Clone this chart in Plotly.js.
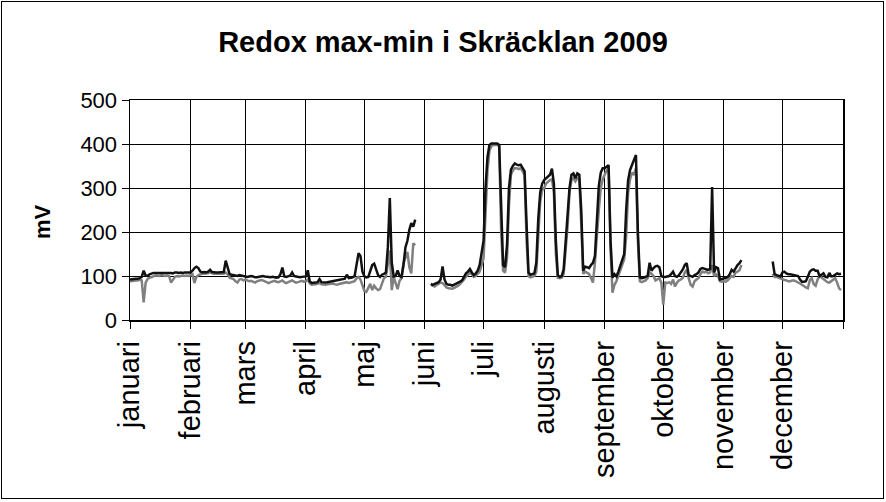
<!DOCTYPE html>
<html>
<head>
<meta charset="utf-8">
<script src="https://cdn.plot.ly/plotly-3.0.1.min.js"></script>
<style>
  html, body { margin: 0; padding: 0; background: #fff; }
  #wrap { position: relative; width: 886px; height: 502px; }
  #chart { width: 886px; height: 502px; }
  #frame { position: absolute; left: 1px; top: 1px; width: 881px; height: 496px; border: 1px solid #000; pointer-events: none; }
</style>
</head>
<body>
<div id="wrap"><div id="chart"></div><div id="frame"></div></div>
<script>
// Month tick labels (Swedish)
const months = ["januari","februari","mars","april","maj","juni","juli","augusti","september","oktober","november","december"];

// Daily redox maximum (mV), one array per month
const maxJan = [92,93,93,94,94,95,98,112,101,100,104,106,107,107,107,108,108,107,108,108,107,107,106,108,108,107,108,107,108,108,107];
const maxFeb = [108,112,118,121,118,110,108,109,108,110,114,109,108,108,108,108,108,109,135,118,104,103,102,101,100,102,101,100];
const maxMar = [99,98,99,100,99,97,97,98,99,100,99,98,97,97,98,97,96,97,104,119,99,98,100,101,108,100,99,98,97,98,99];
const maxApr = [99,113,88,84,84,85,86,93,86,85,85,86,87,88,88,89,90,91,92,93,94,103,95,96,97,100,130,152,145,110];
const maxMay = [99,97,98,110,125,128,115,102,98,103,105,108,165,277,130,99,100,113,100,98,125,165,180,205,220,212,228,null,null,null,null];
const maxJun = [null,null,null,82,80,82,84,86,92,122,92,82,80,80,78,80,82,84,87,90,98,106,110,116,108,102,106,112,125,150];
const maxJul = [180,300,370,398,401,401,401,401,398,240,125,120,170,300,342,350,356,353,352,353,345,338,220,108,103,104,106,130,230,290,310];
const maxAug = [318,322,325,330,344,310,180,102,98,100,115,180,245,300,330,333,322,333,330,250,112,121,120,118,125,130,145,220,305,335,345];
const maxSep = [345,348,352,180,96,104,99,110,125,134,150,250,318,341,355,364,375,200,97,95,96,98,100,130,112,118,122,123,120,100];
const maxOct = [98,98,99,100,104,110,100,98,102,108,115,125,129,102,100,98,102,104,108,116,118,117,115,114,116,302,108,120,118,92,93];
const maxNov = [95,95,98,104,114,110,118,125,129,136,null,null,null,null,null,null,null,null,null,null,null,null,null,null,null,133,104,102,100,99];
const maxDec = [108,110,106,104,104,103,102,102,100,92,87,87,88,98,110,114,115,112,112,100,104,106,98,97,107,99,100,104,106,104,105];

// Daily redox minimum (mV), one array per month
const minJan = [88,89,89,90,90,92,90,40,85,93,96,98,100,101,101,100,102,101,100,101,100,85,92,98,100,99,100,101,100,101,100];
const minFeb = [102,104,84,98,102,104,105,105,105,106,108,106,105,105,105,105,105,105,108,104,96,95,93,88,85,92,93,90];
const minMar = [92,90,88,89,86,85,88,90,91,90,88,86,84,86,88,89,87,86,88,90,86,84,86,88,90,87,85,86,88,89,87];
const minApr = [88,92,83,80,80,81,82,84,81,80,80,81,82,82,83,81,80,82,83,84,84,86,84,85,86,88,95,98,92,80];
const minMay = [66,64,75,82,68,78,72,68,70,85,95,98,130,158,68,98,84,70,89,95,129,140,155,120,106,174,170,null,null,null,null];
const minJun = [null,null,null,80,78,76,80,82,85,84,78,74,72,72,71,73,75,78,82,86,92,98,102,108,104,98,100,104,110,125];
const minJul = [140,240,340,385,395,398,398,398,395,200,112,108,140,260,330,340,345,345,343,345,338,330,180,100,97,98,100,110,190,270,295];
const minAug = [300,310,315,318,320,290,150,96,95,96,105,150,212,290,318,322,315,322,320,220,105,110,108,105,95,85,130,200,250,300,320];
const minSep = [330,340,345,160,62,80,88,100,112,125,138,190,290,320,335,330,345,180,88,86,88,90,95,108,105,100,90,92,95,85];
const minOct = [35,85,84,86,82,92,76,85,90,92,96,108,114,95,80,76,88,92,95,104,110,108,110,106,108,125,100,104,100,88,87];
const minNov = [88,87,90,96,100,98,108,110,113,125,null,null,null,null,null,null,null,null,null,null,null,null,null,null,null,105,98,98,96,95];
const minDec = [93,91,90,88,88,90,90,88,85,83,80,76,74,72,90,95,82,78,92,100,96,92,88,86,85,88,90,95,85,72,68];

const maxByMonth = [maxJan,maxFeb,maxMar,maxApr,maxMay,maxJun,maxJul,maxAug,maxSep,maxOct,maxNov,maxDec];
const minByMonth = [minJan,minFeb,minMar,minApr,minMay,minJun,minJul,minAug,minSep,minOct,minNov,minDec];

function pad(n){ return (n < 10 ? "0" : "") + n; }
function flatten(byMonth){
  const x = [], y = [];
  byMonth.forEach(function(arr, m){
    arr.forEach(function(v, i){
      x.push("2009-" + pad(m + 1) + "-" + pad(i + 1));
      y.push(v);
    });
  });
  return {x: x, y: y};
}
const mx = flatten(maxByMonth);
const mn = flatten(minByMonth);

const tickvals = months.map(function(_, m){ return "2009-" + pad(m + 1) + "-01"; }).concat(["2010-01-01"]);
const ticktext = months.concat([""]);

const font = "Liberation Sans, Arial, Helvetica, sans-serif";

const traces = [
  {x: mn.x, y: mn.y, type: "scatter", mode: "lines", name: "min",
   line: {color: "#808080", width: 2.5}, connectgaps: false, hoverinfo: "skip"},
  {x: mx.x, y: mx.y, type: "scatter", mode: "lines", name: "max",
   line: {color: "#111111", width: 2.5}, connectgaps: false, hoverinfo: "skip"}
];

const layout = {
  width: 886, height: 502,
  paper_bgcolor: "#ffffff", plot_bgcolor: "#ffffff",
  margin: {l: 130, r: 43, t: 100, b: 182},
  showlegend: false,
  font: {family: font, color: "#000"},
  title: {text: "<b>Redox max-min i Skräcklan 2009</b>", font: {family: font, size: 29, color: "#000"},
          x: 0.5, xanchor: "center", xref: "container", y: 0.917, yanchor: "middle", yref: "container"},
  xaxis: {
    type: "date", range: ["2009-01-01", "2010-01-01"],
    tickmode: "array", tickvals: tickvals, ticktext: ticktext,
    tickangle: -90, tickfont: {family: font, size: 29, color: "#000"},
    ticks: "outside", ticklen: 7, tickcolor: "#000", tickwidth: 1,
    ticklabelstandoff: 1,
    showgrid: true, gridcolor: "#000", gridwidth: 1,
    showline: true, linecolor: "#000", linewidth: 1.5, mirror: true,
    zeroline: false, fixedrange: true
  },
  yaxis: {
    range: [0, 500], tickmode: "linear", tick0: 0, dtick: 100,
    tickfont: {family: font, size: 22, color: "#000"},
    ticks: "outside", ticklen: 7, tickcolor: "#000", tickwidth: 1,
    showgrid: true, gridcolor: "#000", gridwidth: 1,
    showline: true, linecolor: "#000", linewidth: 1.5, mirror: true,
    zeroline: false, fixedrange: true
  },
  annotations: [{
    text: "<b>mV</b>", textangle: -90, showarrow: false,
    xref: "paper", yref: "paper", x: -0.1235, y: 0.45, xanchor: "center", yanchor: "middle",
    font: {family: font, size: 22, color: "#000"}
  }]
};

Plotly.newPlot("chart", traces, layout, {displayModeBar: false, staticPlot: true});
</script>
</body>
</html>
